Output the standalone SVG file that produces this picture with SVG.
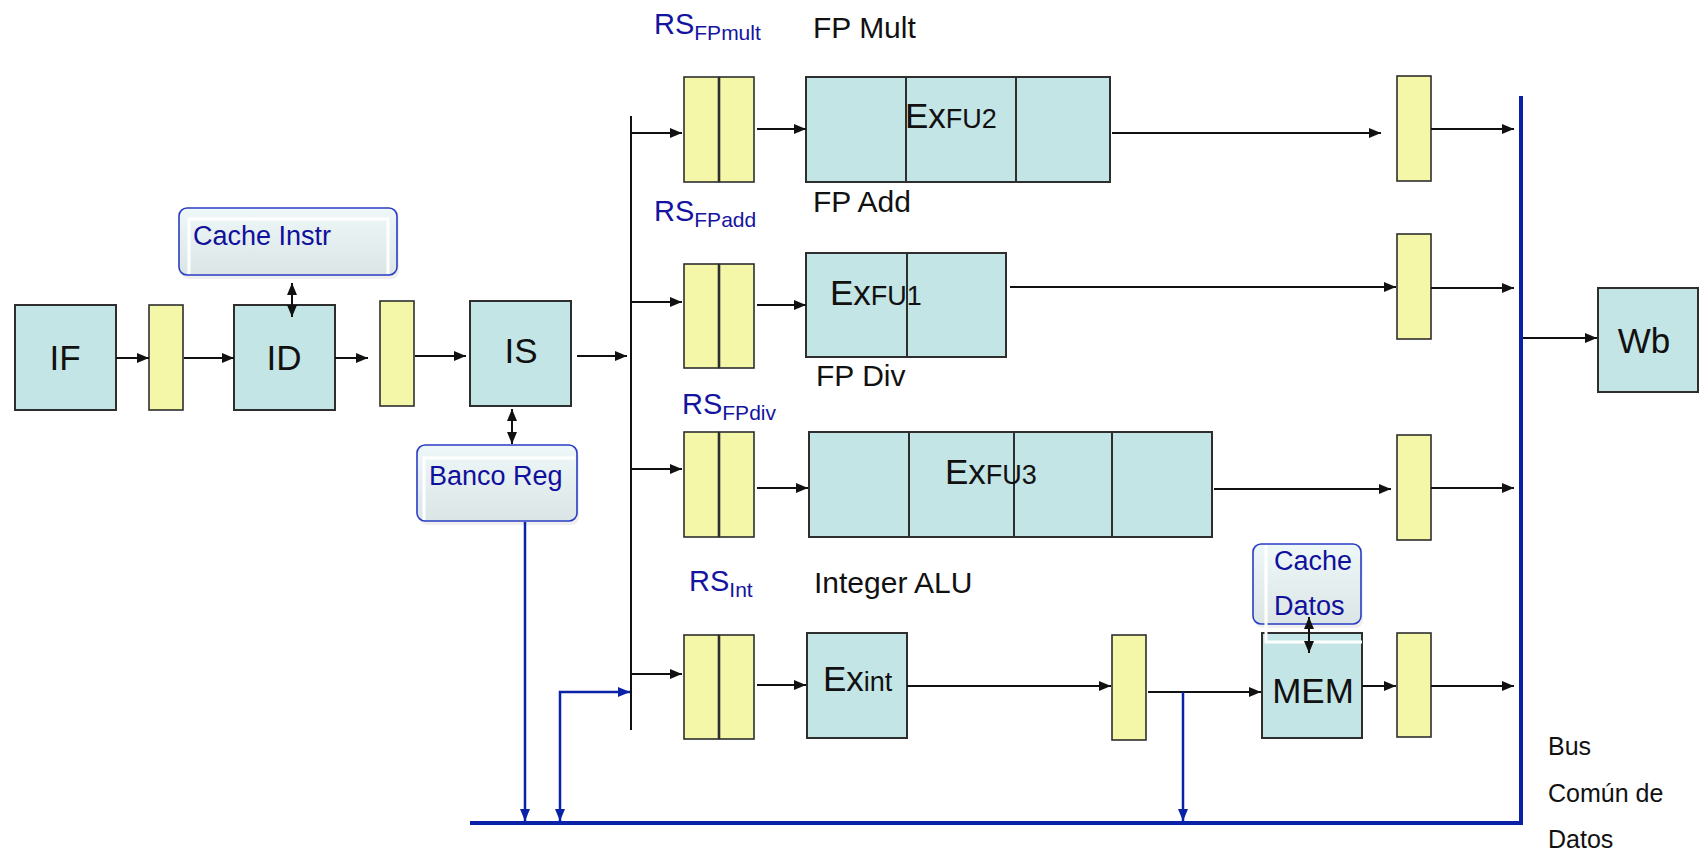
<svg xmlns="http://www.w3.org/2000/svg" width="1704" height="854" viewBox="0 0 1704 854">
<style>
.st{fill:#c4e5e6;stroke:#2e2e2e;stroke-width:2}
.lt{fill:#f4f7a8;stroke:#2e2e2e;stroke-width:1.6}
.dv{stroke:#2e2e2e;stroke-width:2}
.big{font-family:"Liberation Sans",Arial,sans-serif;font-size:35px;fill:#111}
.lbl{font-family:"Liberation Sans",Arial,sans-serif;font-size:30px;fill:#111}
.rs{font-family:"Liberation Sans",Arial,sans-serif;font-size:29px;fill:#1414a0}
.sub{font-size:21px}
.cb{font-family:"Liberation Sans",Arial,sans-serif;font-size:27px;fill:#10109c}
.bus{font-family:"Liberation Sans",Arial,sans-serif;font-size:25px;fill:#111}
.ex{font-family:"Liberation Sans",Arial,sans-serif;font-size:35px;fill:#111}
.exs{font-size:27px}
.cache{fill:url(#cg);stroke:#2a3cc4;stroke-width:1.6}
.hl{fill:none;stroke:#ffffff;stroke-width:3}
.a{fill:none;stroke:#111;stroke-width:2;marker-end:url(#ah)}
.a2{fill:none;stroke:#111;stroke-width:2;marker-start:url(#ah);marker-end:url(#ah)}
.bl{fill:none;stroke:#0a22a8;stroke-width:2.5}
.busline{fill:none;stroke:#0a22a8;stroke-width:4}
</style>
<defs>
<linearGradient id="cg" x1="0" y1="0" x2="0" y2="1">
<stop offset="0" stop-color="#eef8f8"/>
<stop offset="1" stop-color="#dbe5e6"/>
</linearGradient>
<marker id="ah" markerUnits="userSpaceOnUse" markerWidth="12" markerHeight="10" refX="12" refY="5" orient="auto-start-reverse" viewBox="0 0 12 10">
<path d="M0,0 L12,5 L0,10 z" fill="#111"/>
</marker>
<marker id="bh" markerUnits="userSpaceOnUse" markerWidth="12" markerHeight="10" refX="12" refY="5" orient="auto-start-reverse" viewBox="0 0 12 10">
<path d="M0,0 L12,5 L0,10 z" fill="#0a22a8"/>
</marker>
</defs>

<g id="bus">
<line class="busline" x1="1521" y1="96" x2="1521" y2="825"/>
<line class="busline" x1="470" y1="823" x2="1523" y2="823"/>
<text class="bus" x="1548" y="755">Bus</text>
<text class="bus" x="1548" y="802">Común de</text>
<text class="bus" x="1548" y="848">Datos</text>
</g>

<g id="IF"><rect class="st" x="15" y="305" width="101" height="105"/><text class="big" x="65" y="370" text-anchor="middle">IF</text></g>
<g id="latch1"><rect class="lt" x="149" y="305" width="34" height="105"/></g>
<g id="ID"><rect class="st" x="234" y="305" width="101" height="105"/><text class="big" x="284" y="370" text-anchor="middle">ID</text></g>
<g id="latch2"><rect class="lt" x="380" y="301" width="34" height="105"/></g>
<g id="IS"><rect class="st" x="470" y="301" width="101" height="105"/><text class="big" x="521" y="363" text-anchor="middle">IS</text></g>

<g id="cache-instr">
<rect x="181" y="212" width="218" height="67" rx="8" fill="#e4e4e4" opacity="0.6"/>
<rect class="cache" x="179" y="208" width="218" height="67" rx="8"/>
<path class="hl" d="M189,274 V219 H388 V274"/>
<text class="cb" x="193" y="245">Cache Instr</text>
</g>

<g id="banco-reg">
<rect x="419" y="449" width="160" height="76" rx="8" fill="#e4e4e4" opacity="0.6"/>
<rect class="cache" x="417" y="445" width="160" height="76" rx="8"/>
<path class="hl" d="M424,520 V458 H575"/>
<text class="cb" x="429" y="485">Banco Reg</text>
</g>

<g id="rs-fpmult">
<rect class="lt" x="684" y="77" width="34.5" height="105"/><rect class="lt" x="719.5" y="77" width="34.5" height="105"/>
<text class="rs" x="654" y="34">RS<tspan class="sub" dy="6">FPmult</tspan></text>
</g>
<g id="fu2">
<rect class="st" x="806" y="77" width="304" height="105"/>
<line class="dv" x1="906" y1="77" x2="906" y2="182"/><line class="dv" x1="1016" y1="77" x2="1016" y2="182"/>
<text class="lbl" x="813" y="38">FP Mult</text>
<text class="ex" x="905" y="128">Ex<tspan class="exs">FU2</tspan></text>
</g>

<g id="rs-fpadd">
<rect class="lt" x="684" y="264" width="34.5" height="104"/><rect class="lt" x="719.5" y="264" width="34.5" height="104"/>
<text class="rs" x="654" y="221">RS<tspan class="sub" dy="6">FPadd</tspan></text>
</g>
<g id="fu1">
<rect class="st" x="806" y="253" width="200" height="104"/>
<line class="dv" x1="907" y1="253" x2="907" y2="357"/>
<text class="lbl" x="813" y="212">FP Add</text>
<text class="ex" x="830" y="305">Ex<tspan class="exs">FU1</tspan></text>
</g>

<g id="rs-fpdiv">
<rect class="lt" x="684" y="432" width="34.5" height="105"/><rect class="lt" x="719.5" y="432" width="34.5" height="105"/>
<text class="rs" x="682" y="414">RS<tspan class="sub" dy="6">FPdiv</tspan></text>
</g>
<g id="fu3">
<rect class="st" x="809" y="432" width="403" height="105"/>
<line class="dv" x1="909" y1="432" x2="909" y2="537"/><line class="dv" x1="1014" y1="432" x2="1014" y2="537"/><line class="dv" x1="1112" y1="432" x2="1112" y2="537"/>
<text class="lbl" x="816" y="386">FP Div</text>
<text class="ex" x="945" y="484">Ex<tspan class="exs">FU3</tspan></text>
</g>

<g id="rs-int">
<rect class="lt" x="684" y="635" width="34.5" height="104"/><rect class="lt" x="719.5" y="635" width="34.5" height="104"/>
<text class="rs" x="689" y="591">RS<tspan class="sub" dy="6">Int</tspan></text>
</g>
<g id="exint">
<rect class="st" x="807" y="633" width="100" height="105"/>
<text class="lbl" x="814" y="593">Integer ALU</text>
<text class="ex" x="823" y="691">Ex<tspan class="exs">int</tspan></text>
</g>
<g id="latch-int"><rect class="lt" x="1112" y="635" width="34" height="105"/></g>

<g id="MEM"><rect class="st" x="1262" y="633" width="100" height="105"/><text class="big" x="1313" y="703" text-anchor="middle">MEM</text></g>

<g id="cache-datos">
<rect x="1255" y="548" width="108" height="80" rx="8" fill="#e4e4e4" opacity="0.6"/>
<rect class="cache" x="1253" y="544" width="108" height="80" rx="8"/>
<path class="hl" d="M1266,545 V642 H1362"/>
<text class="cb" x="1274" y="570">Cache</text>
<text class="cb" x="1274" y="615">Datos</text>
</g>

<g id="out-fpmult"><rect class="lt" x="1397" y="76" width="34" height="105"/></g>
<g id="out-fpadd"><rect class="lt" x="1397" y="234" width="34" height="105"/></g>
<g id="out-fpdiv"><rect class="lt" x="1397" y="435" width="34" height="105"/></g>
<g id="out-int"><rect class="lt" x="1397" y="633" width="34" height="104"/></g>

<g id="Wb"><rect class="st" x="1598" y="288" width="100" height="104"/><text class="big" x="1644" y="353" text-anchor="middle">Wb</text></g>

<g id="connectors">
<line class="a" x1="116" y1="358" x2="149" y2="358"/>
<line class="a" x1="184" y1="358" x2="234" y2="358"/>
<line class="a" x1="335" y1="358" x2="368" y2="358"/>
<line class="a" x1="415" y1="356" x2="466" y2="356"/>
<line class="a" x1="577" y1="356" x2="627" y2="356"/>
<line stroke="#111" stroke-width="2" x1="631" y1="116" x2="631" y2="730"/>
<line class="a" x1="631" y1="133" x2="682" y2="133"/>
<line class="a" x1="631" y1="302" x2="682" y2="302"/>
<line class="a" x1="631" y1="469" x2="682" y2="469"/>
<line class="a" x1="631" y1="674" x2="682" y2="674"/>
<line class="a" x1="757" y1="129" x2="806" y2="129"/>
<line class="a" x1="757" y1="305" x2="806" y2="305"/>
<line class="a" x1="757" y1="488" x2="808" y2="488"/>
<line class="a" x1="757" y1="685" x2="806" y2="685"/>
<line class="a" x1="1112" y1="133" x2="1381" y2="133"/>
<line class="a" x1="1010" y1="287" x2="1396" y2="287"/>
<line class="a" x1="1214" y1="489" x2="1391" y2="489"/>
<line class="a" x1="907" y1="686" x2="1111" y2="686"/>
<line class="a" x1="1148" y1="692" x2="1261" y2="692"/>
<line class="a" x1="1362" y1="686" x2="1396" y2="686"/>
<line class="a" x1="1431" y1="129" x2="1514" y2="129"/>
<line class="a" x1="1431" y1="288" x2="1514" y2="288"/>
<line class="a" x1="1431" y1="488" x2="1514" y2="488"/>
<line class="a" x1="1431" y1="686" x2="1514" y2="686"/>
<line class="a" x1="1523" y1="338" x2="1597" y2="338"/>
<line class="a2" x1="292" y1="283" x2="292" y2="317"/>
<line class="a2" x1="512" y1="409" x2="512" y2="444"/>
<line class="a2" x1="1309" y1="617" x2="1309" y2="653"/>
<path class="bl" d="M525,522 V821" marker-end="url(#bh)"/>
<path class="bl" d="M560,821 V692 H630" marker-start="url(#bh)" marker-end="url(#bh)"/>
<path class="bl" stroke-width="1.8" d="M1183,692 V821" marker-end="url(#bh)"/>
</g>
</svg>
